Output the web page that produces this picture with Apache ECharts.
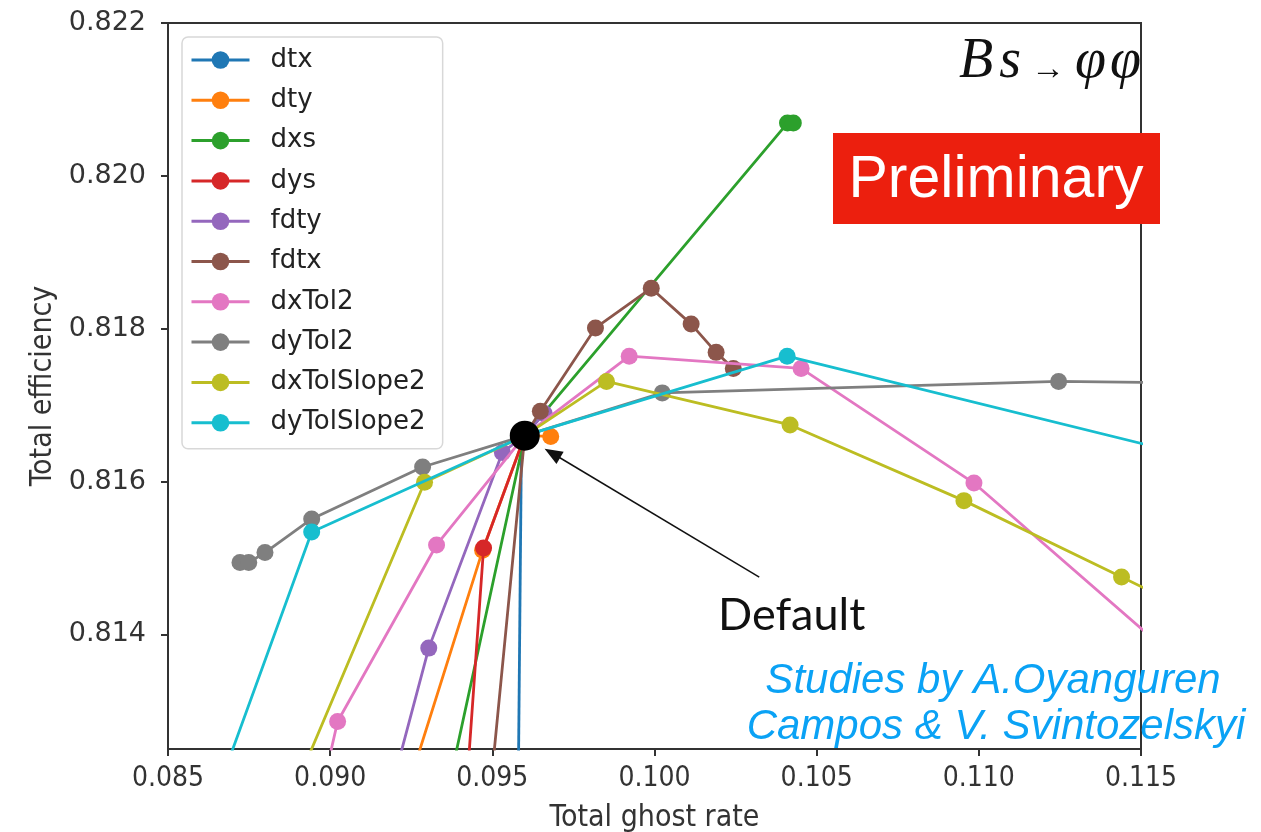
<!DOCTYPE html>
<html><head><meta charset="utf-8">
<script src="https://cdn.jsdelivr.net/npm/echarts@6/dist/echarts.min.js"></script>
<style>html,body{margin:0;padding:0;background:#fff}#c{width:1261px;height:832px}</style>
</head><body><div id="c"></div>
<script>
// ---- data ----
const xTicks = [0.085, 0.090, 0.095, 0.100, 0.105, 0.110, 0.115];
const yTicks = [0.814, 0.816, 0.818, 0.820, 0.822];
const xRange = [0.085, 0.115];
const yRange = [0.8125, 0.822];
const seriesNames = ['dtx', 'dty', 'dxs', 'dys', 'fdty', 'fdtx', 'dxTol2', 'dyTol2', 'dxTolSlope2', 'dyTolSlope2'];
const seriesColors = ['#1f77b4', '#ff7f0e', '#2ca02c', '#d62728', '#9467bd', '#8c564b', '#e377c2', '#7f7f7f', '#bcbd22', '#17becf'];

const dtx = [[0.0958, 0.8120], [0.0959, 0.8166]];
const dty = [[0.0924, 0.8120], [0.0947, 0.8151], [0.0960, 0.8166], [0.0968, 0.81659]];
const dxs = [[0.09365, 0.8120], [0.0960, 0.8166], [0.10410, 0.82069], [0.10428, 0.82069]];
const dys = [[0.09421, 0.8120], [0.09473, 0.81513], [0.0960, 0.8166]];
const fdty = [[0.0919, 0.8120], [0.09304, 0.81382], [0.09531, 0.81638], [0.0960, 0.8166], [0.09660, 0.81689]];
const fdtx = [[0.09495, 0.8120], [0.0960, 0.8166], [0.09648, 0.81692], [0.09818, 0.81801], [0.09990, 0.81853], [0.10113, 0.81806], [0.10190, 0.81769], [0.10243, 0.81748]];
const dxTol2 = [[0.08977, 0.8120], [0.09023, 0.81286], [0.09328, 0.81517], [0.0960, 0.8166], [0.09922, 0.81764], [0.10452, 0.81748], [0.10985, 0.81598], [0.1170, 0.81334]];
const dyTol2 = [[0.08722, 0.81494], [0.08749, 0.81494], [0.08799, 0.81507], [0.08943, 0.81551], [0.09285, 0.81619], [0.0960, 0.8166], [0.10024, 0.81716], [0.11246, 0.81731], [0.1170, 0.81729]];
const dxTolSlope2 = [[0.08893, 0.8120], [0.09291, 0.81599], [0.0960, 0.8166], [0.09852, 0.81731], [0.10418, 0.81674], [0.10954, 0.81575], [0.11440, 0.81475], [0.1170, 0.81421]];
const dyTolSlope2 = [[0.08657, 0.8120], [0.08943, 0.81534], [0.0960, 0.8166], [0.10409, 0.81764], [0.1170, 0.81629]];
const defaultPoint = [[0.0960, 0.8166]];
const arrowTail = [0.10323, 0.81475];
const arrowHead = [0.09685, 0.81637];

const seriesData = [dtx, dty, dxs, dys, fdty, fdtx, dxTol2, dyTol2, dxTolSlope2, dyTolSlope2];

// ---- chart ----
const chart = echarts.init(document.getElementById('c'), null, {renderer: 'canvas'});
const lineSeries = seriesNames.map((name, i) => ({
  name: name,
  type: 'line',
  data: seriesData[i],
  symbol: 'circle',
  symbolSize: 17,
  showSymbol: true,
  clip: true,
  z: 2 + i,
  lineStyle: {color: seriesColors[i], width: 2.8},
  itemStyle: {color: seriesColors[i], borderWidth: 0, opacity: 1},
  emphasis: {disabled: true}
}));

lineSeries.push({
  name: 'Default',
  type: 'scatter',
  data: defaultPoint,
  symbol: 'circle',
  symbolSize: 30,
  z: 20,
  itemStyle: {color: '#000', opacity: 1},
  emphasis: {disabled: true},
  markLine: {
    silent: true,
    symbol: ['none', 'triangle'],
    symbolSize: [14, 18],
    label: {show: false},
    lineStyle: {color: '#111', width: 1.5, type: 'solid', opacity: 1},
    itemStyle: {color: '#111'},
    data: [[{coord: arrowTail}, {coord: arrowHead}]]
  }
});

const axisFont = 'DejaVu Sans';
const option = {
  animation: false,
  backgroundColor: '#fff',
  grid: {left: 168, right: 120, top: 23, bottom: 83, outerBoundsMode: 'none', containLabel: false, show: true, borderColor: '#333', borderWidth: 2, backgroundColor: 'transparent'},
  legend: {
    data: seriesNames,
    orient: 'vertical',
    left: 182,
    top: 37,
    padding: [9, 17, 12, 8],
    itemWidth: 58,
    itemHeight: 22,
    itemGap: 12.3,
    backgroundColor: 'rgba(255,255,255,0.85)',
    borderColor: '#d8d8d8',
    borderWidth: 1.5,
    borderRadius: 6,
    lineStyle: {width: 3},
    textStyle: {fontFamily: axisFont, fontSize: 26, color: '#222', lineHeight: 28, padding: [0, 0, 0, 16]}
  },
  xAxis: {
    type: 'value',
    min: xRange[0], max: xRange[1],
    name: 'Total ghost rate',
    nameLocation: 'middle',
    nameGap: 54,
    nameTextStyle: {fontFamily: 'DejaVu Sans Condensed', fontSize: 30, color: '#333'},
    axisLine: {show: true, onZero: false, lineStyle: {color: '#333', width: 2}},
    axisTick: {show: true, inside: false, length: 7, lineStyle: {color: '#333', width: 2}, customValues: xTicks},
    axisLabel: {customValues: xTicks, margin: 16, fontFamily: 'DejaVu Sans Condensed', fontSize: 28, color: '#333', formatter: v => v.toFixed(3)},
    splitLine: {show: false}
  },
  yAxis: {
    type: 'value',
    min: yRange[0], max: yRange[1],
    name: 'Total efficiency',
    nameLocation: 'middle',
    nameGap: 110,
    nameTextStyle: {fontFamily: 'DejaVu Sans Condensed', fontSize: 30, color: '#333'},
    axisLine: {show: true, onZero: false, lineStyle: {color: '#333', width: 2}},
    axisTick: {show: true, inside: false, length: 7, lineStyle: {color: '#333', width: 2}, customValues: yTicks},
    axisLabel: {customValues: yTicks, margin: 22, fontFamily: axisFont, fontSize: 27, color: '#333', formatter: v => v.toFixed(3)},
    splitLine: {show: false}
  },
  series: lineSeries,
  graphic: [
    {
      type: 'text', z: 100,
      style: {
        x: 1141, y: 62, align: 'right', verticalAlign: 'middle',
        text: '{a|B}{s|s}{b|→}{p|φ}{a|φ}',
        rich: {
          a: {fontFamily: 'Liberation Serif', fontStyle: 'italic', fontSize: 56, fill: '#111'},
          s: {fontFamily: 'Liberation Serif', fontStyle: 'italic', fontSize: 56, fill: '#111', padding: [0, 0, 0, 6]},
          p: {fontFamily: 'Liberation Serif', fontStyle: 'italic', fontSize: 56, fill: '#111', padding: [0, 4, 0, 0]},
          b: {fontFamily: 'Liberation Serif', fontSize: 34, fill: '#111', padding: [16, 10, 0, 10]}
        }
      }
    },
    {
      type: 'rect', z: 100,
      shape: {x: 833, y: 133, width: 327, height: 91},
      style: {fill: '#ec1f0e'}
    },
    {
      type: 'text', z: 101,
      style: {x: 996, y: 181, align: 'center', verticalAlign: 'middle', text: 'Preliminary', fontFamily: 'Liberation Sans', fontSize: 59, fill: '#fff'}
    },
    {
      type: 'text', z: 100,
      style: {x: 718, y: 615, align: 'left', verticalAlign: 'middle', text: 'Default', fontFamily: 'Lato', fontSize: 45, fill: '#111'}
    },
    {
      type: 'text', z: 100,
      style: {x: 993, y: 681, align: 'center', verticalAlign: 'middle', text: 'Studies by A.Oyanguren', fontFamily: 'Liberation Sans', fontStyle: 'italic', fontSize: 42, fill: '#0aa2f5'}
    },
    {
      type: 'text', z: 100,
      style: {x: 996, y: 727, align: 'center', verticalAlign: 'middle', text: 'Campos & V. Svintozelskyi', fontFamily: 'Liberation Sans', fontStyle: 'italic', fontSize: 42, fill: '#0aa2f5'}
    }
  ]
};
chart.setOption(option);
</script>
</body></html>
